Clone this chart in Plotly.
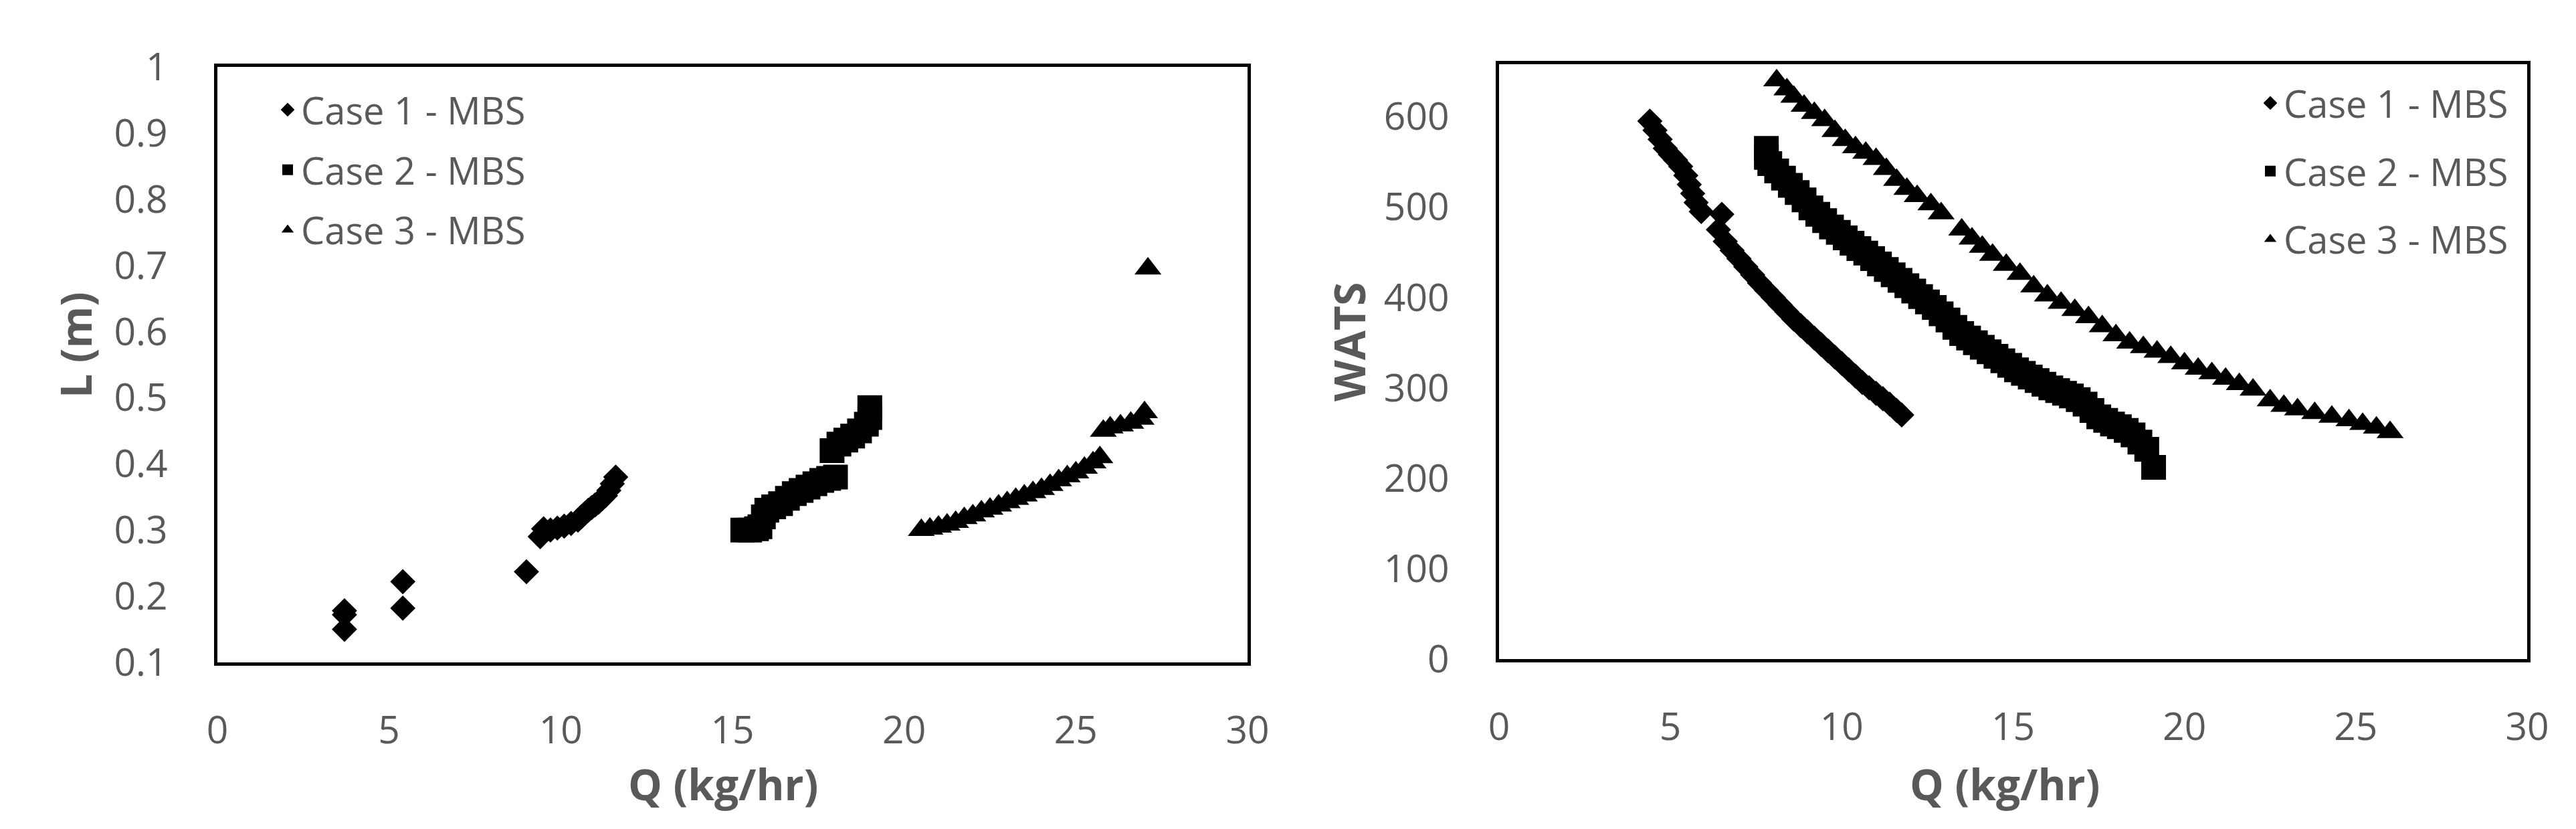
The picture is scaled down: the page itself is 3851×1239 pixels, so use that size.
import plotly.graph_objects as go

# ---------------- data ----------------
series_names = ["Case 1 - MBS", "Case 2 - MBS", "Case 3 - MBS"]
x_ticks = [0, 5, 10, 15, 20, 25, 30]
x_title = "Q (kg/hr)"
y_title_left = "L (m)"
y_title_right = "WATS"

# Left panel: L (m) vs Q (kg/hr)
q1_left = [3.7, 3.7, 3.7, 5.4, 5.4, 9.0, 9.4, 9.5, 9.7, 9.9, 10.1, 10.3, 10.5, 10.6, 10.7, 10.8,
           10.9, 11.0, 11.1, 11.2, 11.3, 11.4, 11.5, 11.6]
l1_left = [0.178, 0.172, 0.150, 0.222, 0.182, 0.237, 0.290, 0.302, 0.300, 0.303, 0.306, 0.310,
           0.315, 0.320, 0.325, 0.330, 0.334, 0.338, 0.342, 0.347, 0.352, 0.360, 0.370, 0.380]

q2_left = [15.3, 15.5, 15.7, 15.8, 15.9, 16.0, 16.2, 16.4, 16.6, 16.8, 17.0, 17.2, 17.4, 17.6,
           17.8, 18.0, 17.9, 18.1, 18.3, 18.5, 18.7, 18.9, 19.0, 19.0]
l2_left = [0.300, 0.300, 0.302, 0.305, 0.320, 0.330, 0.335, 0.340, 0.348, 0.355, 0.360, 0.365,
           0.370, 0.375, 0.378, 0.380, 0.420, 0.430, 0.436, 0.442, 0.450, 0.460, 0.470, 0.485]

q3_left = [20.5, 20.75, 21.0, 21.25, 21.5, 21.75, 22.0, 22.25, 22.5, 22.75, 23.0, 23.25, 23.5,
           23.75, 24.0, 24.25, 24.5, 24.75, 25.0, 25.25, 25.5, 25.7, 25.8, 26.0, 26.3, 26.6,
           26.9, 27.0, 27.1]
l3_left = [0.300, 0.302, 0.305, 0.308, 0.312, 0.318, 0.322, 0.328, 0.332, 0.337, 0.342, 0.347,
           0.352, 0.357, 0.362, 0.368, 0.375, 0.381, 0.387, 0.394, 0.402, 0.410, 0.450, 0.455,
           0.458, 0.462, 0.468, 0.478, 0.695]

# Right panel: WATS vs Q (kg/hr)
q1_right = [4.4, 4.55, 4.7, 4.85, 5.0, 5.15, 5.3, 5.45, 5.55, 5.65, 5.75, 5.9, 6.5, 6.4, 6.6,
            6.8, 7.0, 7.2, 7.4, 7.6, 7.8, 8.0, 8.2, 8.4, 8.6, 8.8, 9.0, 9.2, 9.4, 9.6, 9.8,
            10.0, 10.2, 10.4, 10.6, 10.8, 11.0, 11.2, 11.4, 11.6, 11.75]
w1_right = [595, 585, 575, 565, 558, 552, 545, 535, 525, 515, 505, 495, 492, 475, 462,
            452, 443, 434, 425, 416, 408, 400, 392, 384, 376, 369, 362, 355, 348, 341, 334,
            327, 320, 313, 306, 300, 294, 288, 282, 275, 270]

q2_right = [7.8, 7.8, 7.9, 8.1, 8.3, 8.5, 8.7, 8.9, 9.1, 9.3, 9.5, 9.7, 9.9, 10.1, 10.3, 10.5,
            10.7, 10.9, 11.1, 11.3, 11.5, 11.7, 11.9, 12.1, 12.3, 12.5, 12.7, 12.9, 13.1, 13.3,
            13.5, 13.7, 13.9, 14.1, 14.3, 14.5, 14.7, 14.9, 15.1, 15.3, 15.5, 15.7, 15.9, 16.1,
            16.3, 16.5, 16.7, 16.9, 17.1, 17.3, 17.5, 17.7, 17.9, 18.1, 18.3, 18.5, 18.7, 18.9,
            19.1]
w2_right = [565, 555, 548, 540, 532, 524, 516, 508, 499, 492, 485, 478, 472, 466, 460, 454,
            449, 443, 437, 431, 425, 419, 413, 407, 401, 395, 389, 382, 375, 367,
            360, 355, 350, 345, 340, 335, 330, 325, 320, 316, 312, 308, 304, 300,
            297, 294, 291, 287, 282, 275, 268, 264, 260, 257, 253, 248, 240, 232,
            212]

q3_right = [8.1, 8.4, 8.6, 8.9, 9.2, 9.5, 9.8, 10.1, 10.4, 10.7, 11.0, 11.3, 11.6, 11.9, 12.2,
            12.6, 12.9, 13.5, 13.8, 14.1, 14.4, 14.8, 15.2, 15.6, 16.0, 16.4, 16.8, 17.2, 17.6,
            18.0, 18.4, 18.8, 19.2, 19.6, 20.0, 20.4, 20.8, 21.2, 21.6, 22.0, 22.5, 22.9, 23.3,
            23.8, 24.3, 24.8, 25.2, 25.6, 26.0]
w3_right = [640, 630, 622, 612, 604, 596, 584, 574, 566, 560, 553, 542, 530, 520, 512,
            503, 493, 475, 465, 456, 447, 436, 426, 412, 402, 394, 386, 378, 368,
            358, 350, 345, 340, 334, 327, 321, 316, 310, 304, 298, 286, 280, 276,
            272, 268, 264, 260, 256, 251]

# ---------------- styling ----------------
W, H = 3851, 1239
FONT = "Open Sans"
GREY = "#595959"
symbols = ["diamond", "square", "triangle-up"]
sizes = [29, 37, 35]

fig = go.Figure()

left_sets = [(q1_left, l1_left), (q2_left, l2_left), (q3_left, l3_left)]
right_sets = [(q1_right, w1_right), (q2_right, w2_right), (q3_right, w3_right)]

for i, (xs, ys) in enumerate(left_sets):
    fig.add_trace(go.Scatter(
        x=xs, y=ys, mode="markers", name=series_names[i],
        marker=dict(symbol=symbols[i], size=sizes[i], color="black", line=dict(width=0)),
        xaxis="x", yaxis="y", legend="legend", legendgroup="L%d" % i,
    ))
for i, (xs, ys) in enumerate(right_sets):
    fig.add_trace(go.Scatter(
        x=xs, y=ys, mode="markers", name=series_names[i],
        marker=dict(symbol=symbols[i], size=sizes[i], color="black", line=dict(width=0)),
        xaxis="x2", yaxis="y2", legend="legend2", legendgroup="R%d" % i,
    ))

axis_common = dict(
    showgrid=False, zeroline=False, showline=True, mirror=True,
    linecolor="black", linewidth=5, ticks="",
    tickfont=dict(family=FONT, size=57, color=GREY),
    automargin=False,
)
title_font = dict(family=FONT, size=64, color=GREY, weight="bold")

def title_annot(text, xpx, ypx, angle=0):
    return dict(text=text, x=xpx / W, y=1 - ypx / H, xref="paper", yref="paper",
                xanchor="center", yanchor="middle", showarrow=False,
                textangle=angle, font=title_font)

fig.update_layout(
    width=W, height=H,
    margin=dict(l=0, r=0, t=0, b=0),
    paper_bgcolor="white", plot_bgcolor="white",
    xaxis=dict(domain=[317 / W, 1857 / W], range=[0, 30], tickvals=x_ticks,
               anchor="y", ticklabelstandoff=48, **axis_common),
    yaxis=dict(domain=[1 - 982 / H, 1 - 92 / H], range=[0.1, 1.0], dtick=0.1, tick0=0.1,
               anchor="x", ticklabelstandoff=58, **axis_common),
    xaxis2=dict(domain=[2233 / W, 3770 / W], range=[0, 30], tickvals=x_ticks,
                anchor="y2", ticklabelstandoff=48, **axis_common),
    yaxis2=dict(domain=[1 - 977 / H, 1 - 88 / H], range=[0, 658], dtick=100,
                anchor="x2", ticklabelstandoff=58, **axis_common),
    annotations=[
        title_annot(x_title, 1073, 1163),
        title_annot(x_title, 2989, 1163),
        title_annot(y_title_left, 104, 508, -90),
        title_annot(y_title_right, 2008, 503, -90),
    ],
    legend=dict(x=402 / W, y=1 - 113 / H, xanchor="left", yanchor="top",
                bgcolor="rgba(0,0,0,0)", borderwidth=0, traceorder="grouped",
                tracegroupgap=14, font=dict(family=FONT, size=56, color=GREY)),
    legend2=dict(x=3366 / W, y=1 - 103 / H, xanchor="left", yanchor="top",
                 bgcolor="rgba(0,0,0,0)", borderwidth=0, traceorder="grouped",
                 tracegroupgap=26, font=dict(family=FONT, size=56, color=GREY)),
)

fig.write_html("out.html")
